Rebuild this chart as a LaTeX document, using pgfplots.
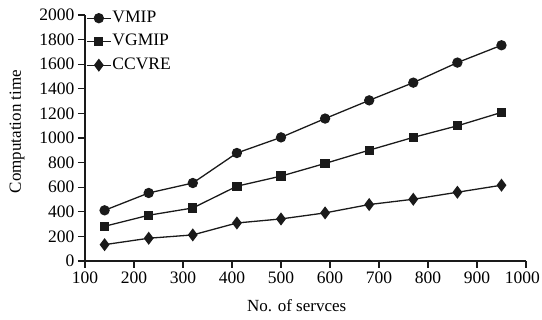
\documentclass[border=0pt]{standalone}
\usepackage{fontspec}
\setmainfont{Liberation Serif}
\usepackage{pgfplots}
\pgfplotsset{compat=1.18}
\definecolor{ink}{HTML}{1A1A1A}
\begin{document}
\begin{tikzpicture}[font=\fontsize{17.5}{20}\selectfont]
\path[use as bounding box] (0,0) rectangle (542pt,320pt);
\begin{axis}[
  at={(85pt,59pt)}, anchor=south west,
  scale only axis, width=441pt, height=246pt,
  xmin=100, xmax=1000, ymin=0, ymax=2000,
  xtick={100,200,...,1000}, ytick={0,200,...,2000},
  xticklabels={100,200,300,400,500,600,700,800,900,\hspace*{-7pt}1000},
  axis x line=bottom, axis y line=left,
  axis line style={-, line width=1.3pt, ink},
  tick align=outside, major tick length=7pt,
  every tick/.style={line width=1.1pt, ink},
  tick label style={font=\fontsize{17.5}{20}\selectfont},
  label style={font=\fontsize{17}{20}\selectfont},
  /pgf/number format/assume math mode=true,
  /pgf/number format/1000 sep={},
  xlabel={No. of servces}, ylabel={Computation time},
  xlabel style={at={(axis description cs:0.48,-0.183)}, anchor=center},
  ylabel style={at={(axis description cs:-0.154,0.526)}, anchor=center},
  legend style={at={(axis cs:100,2000)}, anchor=north west, draw=none, fill=none,
    inner xsep=1pt, inner ysep=0pt, row sep=5.5pt, yshift=6pt,
    font=\fontsize{17.5}{20}\selectfont,
    nodes={inner xsep=1pt, inner ysep=1pt, text height=12pt, text depth=4pt}},
  legend cell align=left,
  legend image code/.code={\draw[mark repeat=2,mark phase=2] plot coordinates {(0pt,0pt)(12pt,0pt)(24pt,0pt)};},
  every axis plot/.append style={line width=1.3pt, ink, mark options={solid, fill=ink}},
]
\addplot[mark=*, mark size=4.5pt] coordinates {
(140,412) (230,553) (320,634) (410,878) (500,1005) (590,1158) (680,1306) (770,1450) (860,1613) (950,1754)};
\addlegendentry{VMIP}
\addplot[mark=square*, mark size=4pt] coordinates {
(140,282) (230,372) (320,431) (410,608) (500,690) (590,793) (680,901) (770,1005) (860,1099) (950,1208)};
\addlegendentry{VGMIP}
\addplot[mark=diamond*, mark size=5.5pt] coordinates {
(140,133) (230,185) (320,212) (410,309) (500,342) (590,391) (680,459) (770,502) (860,559) (950,616)};
\addlegendentry{CCVRE}
\end{axis}
\end{tikzpicture}
\end{document}
